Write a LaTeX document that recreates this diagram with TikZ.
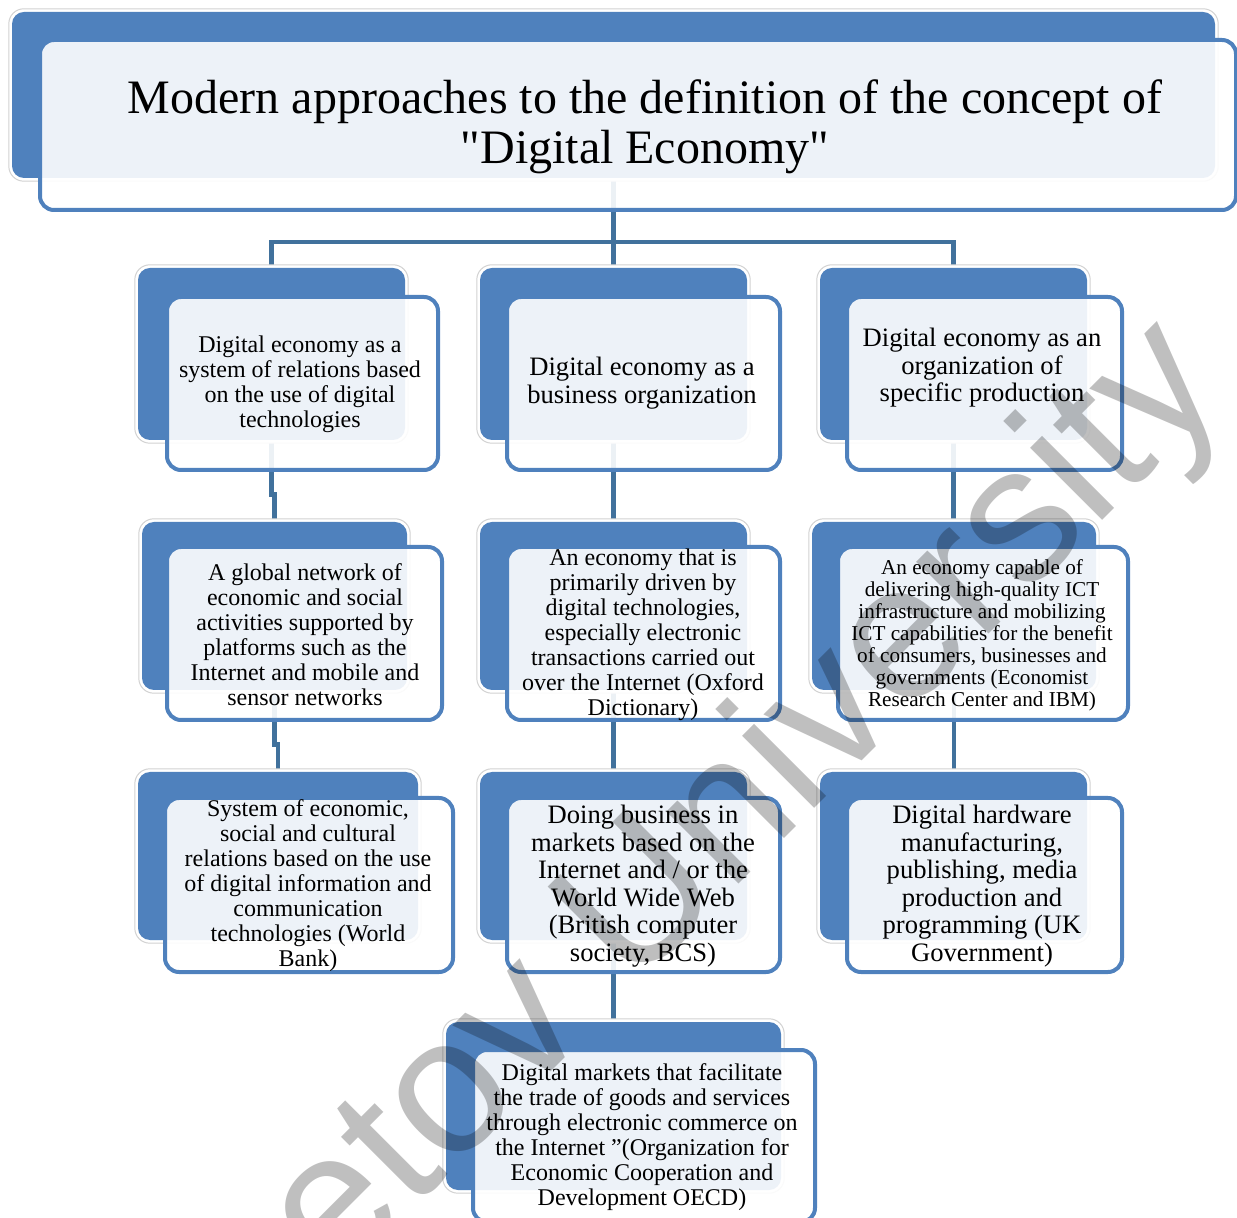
\documentclass[tikz,border=0pt]{standalone}
\usepackage{fontspec}
\setmainfont{Liberation Serif}
\newfontfamily\titlefont{Liberation Serif}[Ligatures=TeXOff]
\newfontfamily\wmfont{Liberation Sans}
\usetikzlibrary{fit}
\definecolor{accblue}{HTML}{4F81BD}
\definecolor{linkblue}{HTML}{41719C}
\definecolor{rimgray}{HTML}{D2D2D2}
\pgfdeclarelayer{bg}
\pgfsetlayers{bg,main}
\newcommand\pairbox[3]{%
  \node[rimbox, fit={#2}] (r#1) {};
  \node[backbox, fit={#2}] (b#1) {};
  \node[frontbox, fit={#3}] (f#1) {};}
\newcommand\vlink[2]{%
  \path (#2.north) ++(0,-27) coordinate (j#2);
  \draw[link] (#1.south) -- (#1.south |- j#2) -- (j#2) -- (#2.north);}
\newcommand\slink[2]{%
  \draw[link] (#1.south) -- (#1.south |- #2.north);}
\begin{document}
\begin{tikzpicture}[x=0.5pt,y=-0.5pt,
  rimbox/.style={draw=rimgray, line width=0.5pt, fill=white, rounded corners=7.5pt, inner sep=1.6pt},
  backbox/.style={fill=accblue, draw=none, rounded corners=6pt, inner sep=0pt},
  frontbox/.style={fill=white, fill opacity=0.9, draw=accblue, draw opacity=1, line width=2pt, rounded corners=7pt, inner sep=0pt},
  link/.style={draw=linkblue, line width=2.2pt},
  tsmall/.style={font=\fontsize{12}{12.5}\selectfont, align=center, inner sep=0pt},
  tbig/.style={font=\fontsize{13.3}{13.75}\selectfont, align=center, inner sep=0pt},
  ttiny/.style={font=\fontsize{10.6}{11}\selectfont, align=center, inner sep=0pt},
]
\useasboundingbox (0,0) rectangle (1237,1218);
% title
\pairbox{t}{(12,12) (1215,178)}{(40,40) (1236,210)}
\node[font=\titlefont\fontsize{24}{25}\selectfont, align=center, inner sep=0pt] (tt) at (645,127)
  {Modern approaches to the definition of the concept of\\"Digital Economy"};
% row 1
\pairbox{11}{(138,268) (405,440)}{(167,297) (438,470)}
\pairbox{12}{(480,268) (747,440)}{(507,297) (780,470)}
\pairbox{13}{(820,268) (1087,440)}{(847,297) (1122,470)}
% row 2
\pairbox{21}{(142,522) (407,690)}{(167,547) (442,720)}
\pairbox{22}{(480,522) (747,690)}{(507,547) (780,720)}
\pairbox{23}{(812,522) (1096,690)}{(838,547) (1128,720)}
% row 3
\pairbox{31}{(138,772) (418,940)}{(165,798) (453,972)}
\pairbox{32}{(480,772) (747,940)}{(507,798) (780,972)}
\pairbox{33}{(820,772) (1087,940)}{(847,798) (1122,972)}
% row 4
\pairbox{41}{(446,1022) (781,1190)}{(473,1050) (815,1222)}
% texts
\node[tsmall] (x11) at (300,384) {Digital economy as a\\system of relations based\\on the use of digital\\technologies};
\node[tbig, font=\fontsize{13.3}{14}\selectfont] (x12) at (642,383) {Digital economy as a\\business organization};
\node[tbig] (x13) at (982,368) {Digital economy as an\\organization of\\specific production};
\node[tsmall] (x21) at (305,635) {A global network of\\economic and social\\activities supported by\\platforms such as the\\Internet and mobile and\\sensor networks};
\node[tsmall] (x22) at (643,635) {An economy that is\\primarily driven by\\digital technologies,\\especially electronic\\transactions carried out\\over the Internet (Oxford\\Dictionary)};
\node[ttiny] (x23) at (982,635) {An economy capable of\\delivering high-quality ICT\\infrastructure and mobilizing\\ICT capabilities for the benefit\\of consumers, businesses and\\governments (Economist\\Research Center and IBM)};
\node[tsmall] (x31) at (308,886) {System of economic,\\social and cultural\\relations based on the use\\of digital information and\\communication\\technologies (World\\Bank)};
\node[tbig] (x32) at (643,886) {Doing business in\\markets based on the\\Internet and / or the\\World Wide Web\\(British computer\\society, BCS)};
\node[tbig] (x33) at (982,886) {Digital hardware\\manufacturing,\\publishing, media\\production and\\programming (UK\\Government)};
\node[tsmall] (x41) at (642,1137) {Digital markets that facilitate\\the trade of goods and services\\through electronic commerce on\\the Internet ”(Organization for\\Economic Cooperation and\\Development OECD)};
% connectors
\coordinate (hub) at (613,242);
\begin{pgfonlayer}{bg}
  \draw[link] (bt.south) -- (bt.south |- hub);
  \draw[link] (b11.north) -- (b11.north |- hub) -- (b13.north |- hub) -- (b13.north);
  \draw[link] (b12.north |- hub) -- (b12.north);
  \vlink{b11}{b21}
  \vlink{b21}{b31}
  \slink{b12}{b22}
  \slink{b22}{b32}
  \slink{b32}{b41}
  \slink{b13}{b23}
  \slink{b23}{b33}
\end{pgfonlayer}
% watermark
\node[font=\wmfont\fontsize{96.5}{96.5}\selectfont, text=black, text opacity=0.25,
  rotate=45, anchor=base west, inner sep=0pt] (wm) at (335,1288) {etov University};
\end{tikzpicture}
\end{document}
